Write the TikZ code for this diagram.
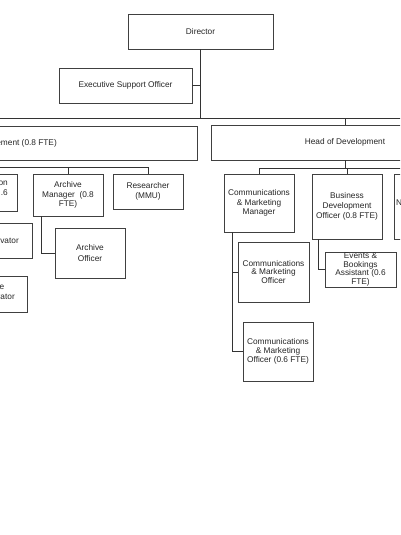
\documentclass[tikz,border=0pt]{standalone}
\usepackage{fontspec}
\setmainfont{Liberation Sans}
\begin{document}
\begin{tikzpicture}[x=1pt,y=-1pt,
  box/.style={draw=black!75, line width=0.9pt, fill=white, inner sep=0pt, align=center,
    font=\fontsize{8.3}{9.5}\selectfont, text=black!85},
  txt/.style={inner sep=0pt, font=\fontsize{8.3}{9.5}\selectfont, text=black!85},
  conn/.style={draw=black!80, line width=0.9pt}]
\useasboundingbox (0,0) rectangle (400,535);
\fill[white] (0,0) rectangle (400,535);
\clip (0,0) rectangle (400,535);

% connectors first (boxes drawn over)
\coordinate (bus) at (0,118);
\coordinate (busR) at (450,118);
\coordinate (lbus) at (0,167);
\coordinate (rbus) at (0,168);

% nodes
\node[box, minimum width=145, minimum height=35] (dir) at (200.5,31.5) {Director};
\node[box, minimum width=133, minimum height=35] (eso) at (125.5,85.5) {Executive Support Officer};
\node[box, minimum width=447, minimum height=34] (lhead) at (-26.5,143) {};
\node[txt, anchor=east] (lheadtxt) at (57,143) {ement (0.8 FTE)};
\node[box, minimum width=268, minimum height=35] (rhead) at (345,142.5) {Head of Development};

\node[box, minimum width=77, minimum height=37] (lp1) at (-21.5,192.5) {};
\node[txt, anchor=east, align=right] (lp1txt) at (8,188.5) {on\\.6};
\node[box, minimum width=70, minimum height=42] (am) at (68,195) {Archive\\Manager\ \ (0.8\\FTE)};
\node[box, minimum width=70, minimum height=35] (res) at (148,191.5) {Researcher\\(MMU)};
\node[box, minimum width=70, minimum height=50, font=\fontsize{8.3}{11.6}\selectfont] (ao) at (90,253) {Archive\\Officer};
\node[box, minimum width=92, minimum height=35] (lp2) at (-14,240.5) {};
\node[txt, anchor=east] (lp2txt) at (19,240.5) {rvator};
\node[box, minimum width=87, minimum height=36] (lp3) at (-16.5,294) {};
\node[txt, anchor=east] (lp3a) at (4.5,287.5) {e};
\node[txt, anchor=east] (lp3b) at (15,296.5) {rator};

\node[box, minimum width=70, minimum height=58, font=\fontsize{8.3}{9.7}\selectfont] (cmm) at (259,203) {Communications\\\& Marketing\\Manager};
\node[box, minimum width=70, minimum height=65, font=\fontsize{8.3}{9.8}\selectfont] (bdo) at (347,206.5) {Business\\Development\\Officer (0.8 FTE)};
\node[box, minimum width=70, minimum height=65] (rp) at (429,206.5) {};
\node[txt, anchor=west] (rptxt) at (396,203) {N};
\node[box, minimum width=71, minimum height=60, font=\fontsize{8.3}{8.4}\selectfont] (cmo) at (273.5,272) {Communications\\\& Marketing\\Officer};
\node[box, minimum width=70, minimum height=59, font=\fontsize{8.3}{9.2}\selectfont] (cmo6) at (278,351.5) {Communications\\\& Marketing\\Officer (0.6 FTE)};
\node[box, minimum width=71, minimum height=35, font=\fontsize{8.3}{8.8}\selectfont] (eba) at (360.5,269.5) {Events \&\\Bookings\\Assistant (0.6\\FTE)};

% connectors
\draw[conn] (dir.south) -- (dir.south |- bus);
\draw[conn] (eso.east) -- (eso.east -| dir.south);
\draw[conn] (lhead.north) -- (lhead.north |- bus) -- (busR);
\draw[conn] (rhead.north |- bus) -- (rhead.north);

\draw[conn] (lhead.south) -- (lhead.south |- lbus) -- (res.north |- lbus) -- (res.north);
\draw[conn] (am.north |- lbus) -- (am.north);
\draw[conn] ([xshift=-27pt]am.south) |- (ao.west);

\draw[conn] (rhead.south) -- (rhead.south |- rbus);
\draw[conn] (cmm.north) -- (cmm.north |- rbus) -- (rp.north |- rbus) -- (rp.north);
\draw[conn] (bdo.north |- rbus) -- (bdo.north);
\draw[conn] ([xshift=-27pt]cmm.south) |- (cmo.west);
\draw[conn] ([xshift=-27pt]cmm.south) |- (cmo6.west);
\draw[conn] ([xshift=-29pt]bdo.south) |- (eba.west);
\end{tikzpicture}
\end{document}
